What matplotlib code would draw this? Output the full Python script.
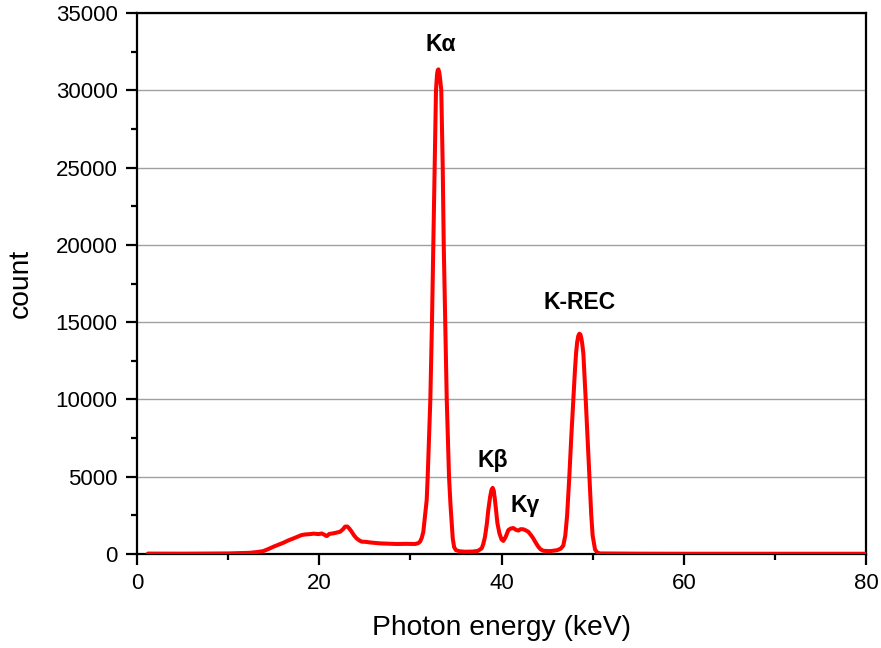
import matplotlib
matplotlib.use("Agg")
import matplotlib.pyplot as plt
from matplotlib.ticker import MultipleLocator

plt.rcParams['font.family'] = ['Liberation Sans', 'DejaVu Sans']

# Measured spectrum: photon energy (keV) and detector counts
energy_kev = [
    1.2, 5.0, 10.0, 12.4, 13.2, 13.86, 14.4, 14.96, 15.5, 16.06, 16.6, 17.16,
    17.6, 18.07, 18.5, 18.99, 19.4, 19.9, 20.3, 20.6, 20.82, 21.1, 21.55, 22.0,
    22.28, 22.6, 22.83, 23.08, 23.3, 23.56, 23.8, 24.1, 24.4, 24.66, 25.1, 25.57,
    26.1, 26.67, 27.5, 28.5, 29.5, 30.5, 30.85, 31.06, 31.25, 31.42, 31.6, 31.79,
    31.9, 32.05, 32.19, 32.37, 32.52, 32.67, 32.81, 32.92, 33.0, 33.08, 33.17,
    33.27, 33.39, 33.55, 33.66, 33.83, 33.99, 34.12, 34.24, 34.4, 34.53, 34.65,
    34.8, 35.0, 35.4, 36.0, 36.8, 37.4, 37.83, 38.0, 38.19, 38.4, 38.55, 38.75,
    38.9, 39.03, 39.15, 39.28, 39.4, 39.55, 39.77, 40.0, 40.2, 40.45, 40.75, 41.0,
    41.3, 41.6, 41.85, 42.1, 42.4, 42.7, 42.94, 43.2, 43.49, 43.75, 44.04, 44.3,
    44.6, 45.3, 45.5, 46.1, 46.5, 46.78, 47.0, 47.2, 47.44, 47.65, 47.88, 48.05,
    48.18, 48.3, 48.42, 48.54, 48.66, 48.78, 48.88, 48.98, 49.24, 49.44, 49.64,
    49.85, 50.0, 50.26, 50.5, 50.8, 55.0, 60.0, 70.0, 80.0,
]
counts = [
    30, 25, 40, 80, 130, 190, 320, 470, 600, 730, 880, 1010,
    1120, 1230, 1270, 1290, 1320, 1290, 1330, 1230, 1160, 1300, 1340, 1400,
    1440, 1600, 1770, 1780, 1650, 1440, 1220, 1010, 880, 800, 790, 750,
    720, 690, 670, 650, 660, 650, 700, 800, 1050, 1440, 2410, 3490,
    5000, 7500, 10000, 15000, 20000, 25000, 30000, 31000, 31300, 31350, 31150,
    30700, 30000, 25000, 20000, 15000, 10000, 7500, 5000, 3200, 2000, 1000,
    450, 250, 180, 150, 160, 200, 370, 650, 1120, 2000, 2850, 3700,
    4150, 4280, 4100, 3500, 2850, 2000, 1340, 950, 850, 1100, 1550, 1650,
    1680, 1560, 1520, 1610, 1600, 1520, 1440, 1250, 1010, 740, 470, 300,
    210, 190, 200, 250, 350, 550, 1200, 2500, 5000, 7500, 10000, 11800,
    12980, 13700, 14100, 14250, 14200, 13900, 13500, 12980, 10000, 7500, 5000,
    2500, 1200, 300, 100, 40, 25, 20, 20, 20,
]

# Peak labels and where they sit
peak_labels = ["K\u03b1", "K\u03b2", "K\u03b3", "K-REC"]
label_x = [33.36, 39.07, 42.58, 48.6]
label_y = [32930, 6080, 3170, 16300]

x_ticks = [0, 20, 40, 60, 80]
y_ticks = [0, 5000, 10000, 15000, 20000, 25000, 30000, 35000]

fig = plt.figure(figsize=(8.81, 6.48), dpi=100)
ax = fig.add_axes([0.1555, 0.145, 0.8275, 0.835])

ax.plot(energy_kev, counts, color="#ff0000", lw=2.9, solid_joinstyle="round",
        solid_capstyle="round", zorder=3)

ax.set_xlim(0, 80)
ax.set_ylim(0, 35000)
ax.set_xticks(x_ticks)
ax.set_yticks(y_ticks)
ax.xaxis.set_minor_locator(MultipleLocator(10))
ax.yaxis.set_minor_locator(MultipleLocator(2500))

ax.yaxis.grid(True, which="major", color="#a0a0a0", lw=1.0)
ax.set_axisbelow(True)

for side in ["left", "bottom", "top", "right"]:
    ax.spines[side].set_linewidth(1.6)
    ax.spines[side].set_color("black")

ax.tick_params(which="major", direction="out", length=8, width=1.6,
               labelsize=16, pad=6, top=False, right=False)
ax.tick_params(which="minor", direction="out", length=4.5, width=1.6,
               top=False, right=False)

ax.set_xlabel("Photon energy (keV)", fontsize=20.3, labelpad=15)
ax.set_ylabel("count", fontsize=20.3, labelpad=16)

for text, xl, yl in zip(peak_labels, label_x, label_y):
    ax.text(xl, yl, text, ha="center", va="center", fontsize=16.5,
            fontweight="bold")

fig.savefig("out.png", dpi=100)
